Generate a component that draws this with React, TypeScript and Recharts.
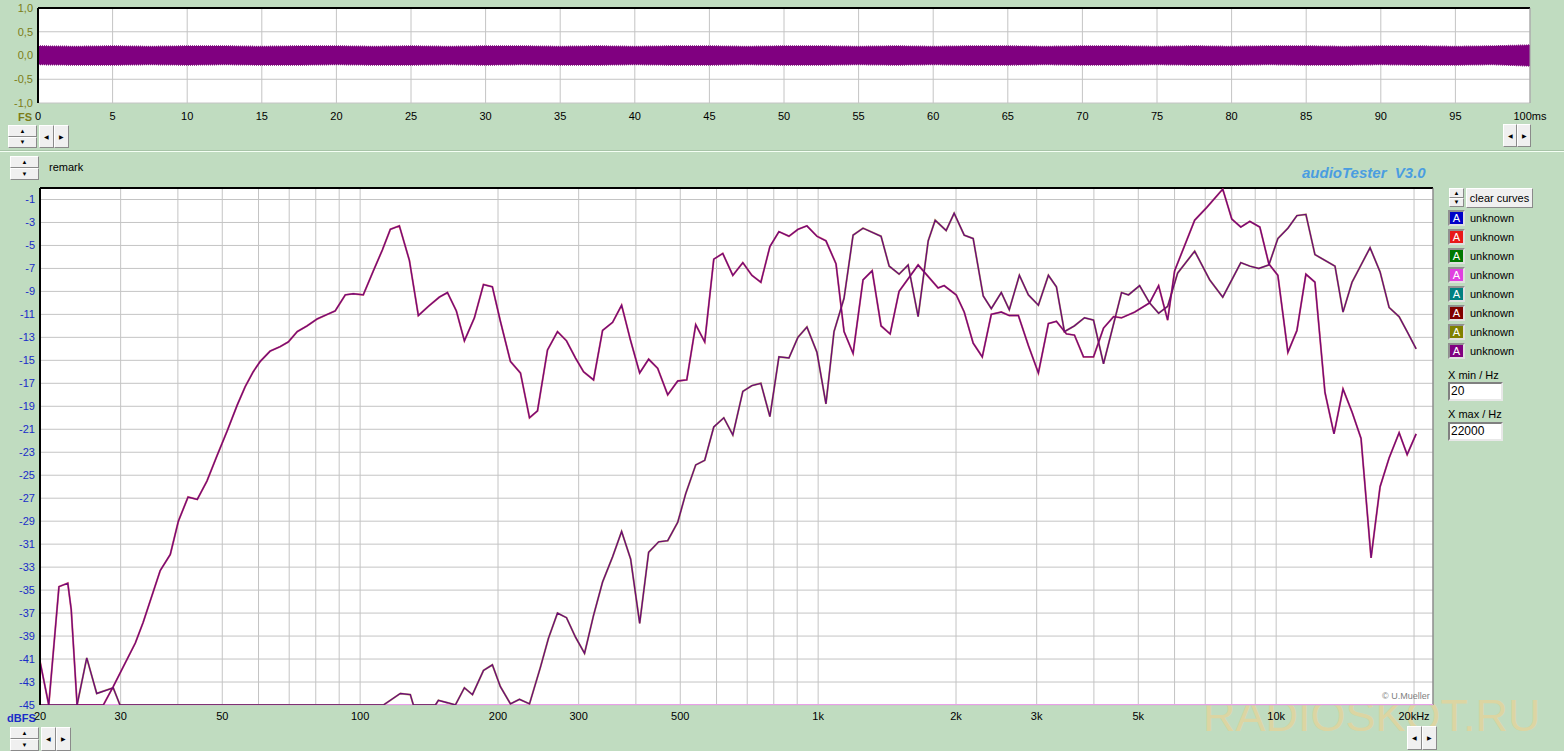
import React from "react";
import {
  Area,
  CartesianGrid,
  ComposedChart,
  Line,
  ReferenceLine,
  XAxis,
  YAxis,
} from "recharts";

// ---- waveform (top panel), time in ms, level in FS ----
const timeMs = [
  0, 2.5, 5, 7.5, 10, 12.5, 15, 17.5, 20, 22.5, 25, 27.5, 30, 32.5, 35, 37.5, 40, 42.5, 45, 47.5, 50,
  52.5, 55, 57.5, 60, 62.5, 65, 67.5, 70, 72.5, 75, 77.5, 80, 82.5, 85, 87.5, 90, 92.5, 95, 97.5, 100,
];
const waveHigh = [
  0.2, 0.19, 0.2, 0.19, 0.2, 0.2, 0.19, 0.2, 0.2, 0.19, 0.2, 0.19, 0.2, 0.2, 0.19, 0.2, 0.19,
  0.2, 0.2, 0.19, 0.2, 0.2, 0.19, 0.2, 0.19, 0.2, 0.2, 0.19, 0.2, 0.2, 0.19, 0.2, 0.19, 0.2,
  0.2, 0.19, 0.2, 0.2, 0.19, 0.2, 0.22,
];
const waveLow = [
  -0.19, -0.2, -0.2, -0.19, -0.2, -0.19, -0.2, -0.2, -0.19, -0.2, -0.2, -0.19, -0.2, -0.19, -0.2,
  -0.2, -0.19, -0.2, -0.2, -0.19, -0.2, -0.2, -0.19, -0.2, -0.19, -0.2, -0.2, -0.19, -0.2, -0.2,
  -0.19, -0.2, -0.2, -0.19, -0.2, -0.2, -0.19, -0.2, -0.2, -0.19, -0.22,
];
const timeTicks = [0, 5, 10, 15, 20, 25, 30, 35, 40, 45, 50, 55, 60, 65, 70, 75, 80, 85, 90, 95, 100];
const levelTicks = [-1, -0.5, 0, 0.5, 1];

// ---- frequency response (bottom panel), [Hz, dBFS] ----
const freqTicks = [
  20, 30, 40, 50, 60, 70, 80, 90, 100, 200, 300, 400, 500, 600, 700, 800, 900, 1000, 2000, 3000, 4000,
  5000, 6000, 7000, 8000, 9000, 10000, 20000,
];
const freqLabels: Record<number, string> = {
  20: "20", 30: "30", 50: "50", 100: "100", 200: "200", 300: "300", 500: "500",
  1000: "1k", 2000: "2k", 3000: "3k", 5000: "5k", 10000: "10k", 20000: "20kHz",
};
const dbTicks = [
  -1, -3, -5, -7, -9, -11, -13, -15, -17, -19, -21, -23, -25, -27, -29, -31, -33, -35, -37, -39, -41,
  -43, -45,
];

const responseA: [number, number][] = [
  [20, -41.2], [20.9, -45], [22.0, -34.7], [23.0, -34.4], [23.4, -36.7], [24.1, -45], [27.5, -45],
  [28.9, -43.4], [32.3, -39.6], [33.6, -37.8], [36.6, -33.3], [38.5, -31.9], [40.1, -29.0],
  [42.1, -26.9], [44.1, -27.1], [46.3, -25.5], [48.7, -23.3], [51.3, -21.1], [53.9, -18.9],
  [56.1, -17.3], [58.4, -16.0], [60.5, -15.1], [63.6, -14.2], [66.9, -13.8], [69.7, -13.4],
  [72.9, -12.5], [76.6, -12.0], [80.6, -11.4], [84.8, -11.0], [88.2, -10.7], [92.8, -9.3],
  [96.6, -9.2], [101.6, -9.3], [106.9, -7.2], [111.8, -5.4], [116.4, -3.6], [121.8, -3.3],
  [128.1, -6.3], [134, -11.1], [141, -10.3], [148.9, -9.5], [155.1, -9.1], [162.2, -10.7],
  [168.9, -13.3], [177.6, -11.3], [185.9, -8.4], [194.4, -8.6], [202.4, -11.6], [212.9, -15.1],
  [223.9, -16.1], [234.3, -20.0], [243.9, -19.4], [256.5, -14.1], [269.7, -12.5], [282.2, -13.3],
  [295.3, -14.8], [307.5, -16.0], [323.3, -16.7], [338.3, -12.4], [355.8, -11.7], [372.3, -10.2],
  [389.6, -13.3], [407.7, -16.1], [426.5, -14.9], [446.3, -15.7], [469.4, -18.0], [493.6, -16.8],
  [516.6, -16.7], [540.4, -11.9], [565.4, -13.4], [591.7, -6.2], [619.1, -5.7], [651.2, -7.6],
  [684.8, -6.5], [716.6, -7.6], [749.8, -8.2], [784.6, -5.1], [821, -3.8], [863.4, -4.2],
  [903.2, -3.6], [945.1, -3.3], [993.9, -4.2], [1040, -4.6], [1094, -6.6], [1139, -12.5],
  [1192, -14.4], [1253, -8.0], [1312, -7.2], [1372, -12.0], [1436, -12.7], [1502, -9.0],
  [1653, -6.7], [1828, -8.7], [1884, -8.5], [2002, -9.3], [2084, -10.8], [2180, -13.5],
  [2282, -14.7], [2388, -11.0], [2511, -10.8], [2614, -11.1], [2736, -11.1], [2877, -13.7],
  [3026, -16.1], [3182, -11.8], [3313, -11.6], [3484, -12.7], [3627, -12.8], [3796, -14.7],
  [3992, -14.7], [4198, -12.2], [4415, -11.2], [4596, -11.3], [4908, -10.8], [5292, -10.0],
  [5538, -8.5], [5795, -11.5], [6003, -7.2], [6313, -5.0], [6639, -2.8], [7053, -1.7],
  [7645, -0.1], [8000, -2.7], [8371, -3.4], [8759, -2.9], [9212, -3.4], [9639, -6.6],
  [10086, -7.6], [10608, -14.3], [11100, -12.4], [11613, -7.5], [12152, -8.2], [12781, -17.8],
  [13374, -21.4], [13995, -17.5], [14643, -19.5], [15322, -21.8], [15713, -27.0], [16114, -32.2],
  [16443, -29.4], [16862, -26.0], [17644, -23.5], [18555, -21.3], [19319, -23.2], [20214, -21.4],
];

const responseB: [number, number][] = [
  [20, -45], [24.1, -45], [25.3, -40.9], [26.6, -44.0], [28.9, -43.5], [29.9, -45], [112.4, -45],
  [122.4, -44.0], [128.7, -44.1], [130.7, -45], [146, -45], [148.2, -44.6], [155.1, -44.8],
  [161.4, -45], [168.9, -43.5], [175.9, -44.1], [185.9, -42.0], [194.4, -41.5], [202.4, -43.4],
  [212.9, -44.9], [222.8, -44.5], [234.3, -44.9], [247.6, -41.7], [257.7, -39.2], [269.7, -37.0],
  [282.2, -37.4], [295.3, -39.1], [309, -40.5], [323.3, -37.2], [338.3, -34.3], [355.8, -32.1],
  [372.3, -29.9], [389.6, -32.3], [407.7, -37.9], [426.5, -31.7], [448.5, -30.8], [469.4, -30.7],
  [493.6, -29.1], [513.9, -26.6], [540.4, -24.1], [565.4, -23.7], [591.7, -20.8], [622.3, -20.0],
  [651.2, -21.5], [684.8, -17.7], [716.6, -17.2], [749.8, -17.0], [784.6, -19.9], [821, -14.7],
  [863.4, -14.8], [903.2, -13.0], [945.1, -12.1], [993.9, -14.3], [1040, -18.8], [1083, -12.5],
  [1139, -9.6], [1192, -4.1], [1253, -3.5], [1372, -4.2], [1429, -6.8], [1502, -7.5],
  [1572, -6.7], [1653, -11.2], [1739, -4.6], [1801, -2.8], [1903, -3.7], [1981, -2.2],
  [2084, -4.1], [2180, -4.4], [2293, -9.4], [2388, -10.5], [2511, -9.1], [2614, -10.6],
  [2750, -7.6], [2877, -9.3], [3026, -10.2], [3182, -7.6], [3313, -8.6], [3449, -12.5],
  [3627, -12.0], [3815, -11.3], [3992, -11.5], [4198, -15.3], [4596, -9.1], [4761, -9.3],
  [5033, -8.5], [5292, -10.0], [5538, -10.9], [5795, -10.3], [6094, -7.4], [6639, -5.5],
  [7160, -8.0], [7645, -9.5], [8371, -6.5], [8759, -6.8], [9165, -7.0], [9639, -6.7],
  [10086, -4.4], [10608, -3.5], [11100, -2.4], [11613, -2.3], [12152, -5.8], [12781, -6.3],
  [13441, -6.8], [13995, -10.8], [14643, -8.2], [15322, -6.7], [16033, -5.2], [16862, -7.3],
  [17644, -10.4], [18555, -11.2], [19319, -12.5], [20214, -14.0],
];

const floorLine: [number, number][] = [[20, -45], [22000, -45]];

const legendColors = ["#0000c8", "#e81818", "#007800", "#e040e0", "#008080", "#800000", "#808000", "#800080"];

const waveData = timeMs.map((t, i) => ({ t, range: [waveLow[i], waveHigh[i]] }));
const toPts = (arr: [number, number][]) => arr.map(([f, db]) => ({ f, db }));

const GREEN = "#c0dcc0";
const GRID = "#c4c4c4";

const btn: React.CSSProperties = {
  position: "absolute",
  boxSizing: "border-box",
  background: "#f0f0f0",
  border: "1px solid",
  borderColor: "#ffffff #8a8a8a #8a8a8a #ffffff",
  display: "flex",
  alignItems: "center",
  justifyContent: "center",
  fontSize: 6,
  lineHeight: 1,
  color: "#000",
};

function Spinner({ x, y, w, h }: { x: number; y: number; w: number; h: number }) {
  const hh = h / 2;
  return (
    <>
      <div style={{ ...btn, left: x, top: y, width: w, height: hh }}>▲</div>
      <div style={{ ...btn, left: x, top: y + hh, width: w, height: hh }}>▼</div>
    </>
  );
}

function Arrows({ x, y, w, h }: { x: number; y: number; w: number; h: number }) {
  return (
    <>
      <div style={{ ...btn, left: x, top: y, width: w, height: h }}>◀</div>
      <div style={{ ...btn, left: x + w, top: y, width: w, height: h }}>▶</div>
    </>
  );
}

function Label({ x, y, children, style }: { x: number; y: number; children: React.ReactNode; style?: React.CSSProperties }) {
  return (
    <div style={{ position: "absolute", left: x, top: y, whiteSpace: "pre", lineHeight: "14px", ...style }}>
      {children}
    </div>
  );
}

function InputBox({ x, y, value }: { x: number; y: number; value: string }) {
  return (
    <div
      style={{
        position: "absolute",
        left: x,
        top: y,
        width: 55,
        height: 19,
        boxSizing: "border-box",
        background: "#fff",
        border: "2px solid",
        borderColor: "#808080 #e8e8e8 #e8e8e8 #808080",
        fontSize: 12,
        lineHeight: "15px",
        paddingLeft: 1,
      }}
    >
      {value}
    </div>
  );
}

export default function App() {
  return (
    <div
      style={{
        position: "absolute",
        left: 0,
        top: 0,
        width: 1564,
        height: 751,
        overflow: "hidden",
        background: GREEN,
        fontFamily: "'Liberation Sans', Arial, sans-serif",
        fontSize: 11,
        color: "#000",
      }}
    >
      {/* watermark sits under everything else */}
      <Label
        x={1203}
        y={699}
        style={{ color: "#dcd5a2", fontSize: 45, lineHeight: "34px" }}
      >
        RADIOSKOT.RU
      </Label>

      {/* waveform */}
      <div style={{ position: "absolute", left: 0, top: 0 }}>
        <ComposedChart width={1560} height={125} data={waveData} margin={{ top: 8, right: 30, left: 0, bottom: 0 }}>
          <CartesianGrid stroke={GRID} fill="#ffffff" fillOpacity={1} />
          <XAxis
            dataKey="t"
            type="number"
            domain={[0, 100]}
            ticks={timeTicks}
            interval={0}
            tickFormatter={(v: number) => (v === 100 ? "100ms" : String(v))}
            axisLine={false}
            tickLine={false}
            tickSize={0}
            tickMargin={9}
            height={22}
            tick={{ fontSize: 11, fill: "#000" }}
          />
          <YAxis
            type="number"
            domain={[-1, 1]}
            ticks={levelTicks}
            interval={0}
            tickFormatter={(v: number) => v.toFixed(1).replace(".", ",")}
            axisLine={{ stroke: "#000", strokeWidth: 2 }}
            tickLine={false}
            tickSize={0}
            tickMargin={5}
            width={38}
            tick={{ fontSize: 11, fill: "#7c7c18" }}
          />
          <ReferenceLine y={1} stroke="#000" strokeWidth={2} />
          <ReferenceLine x={100} stroke="#a0a0a0" />
          <Area
            dataKey="range"
            type="linear"
            stroke="#7a0a7a"
            strokeWidth={1.5}
            strokeDasharray="1 1"
            fill="#800080"
            fillOpacity={1}
            isAnimationActive={false}
          />
        </ComposedChart>
      </div>
      <Label x={18} y={110} style={{ color: "#7c7c18", fontWeight: "bold" }}>FS</Label>
      <Spinner x={8} y={125} w={29} h={23} />
      <Arrows x={39} y={125} w={15} h={23} />
      <Arrows x={1503} y={124} w={14} h={23} />

      <div style={{ position: "absolute", left: 0, top: 150, width: 1564, height: 1, background: "#a8c4a8" }} />
      <div style={{ position: "absolute", left: 0, top: 151, width: 1564, height: 1, background: "#f4fff4" }} />

      <Spinner x={10} y={156} w={29} h={24} />
      <Label x={49} y={160}>remark</Label>
      <Label
        x={1302}
        y={164}
        style={{ color: "#4a9de0", fontWeight: "bold", fontStyle: "italic", fontSize: 15, lineHeight: "18px" }}
      >
        {"audioTester  V3.0"}
      </Label>

      {/* frequency response */}
      <div style={{ position: "absolute", left: 0, top: 180 }}>
        <ComposedChart width={1440} height={545} margin={{ top: 8, right: 7, left: 0, bottom: 0 }}>
          <CartesianGrid stroke={GRID} fill="#ffffff" fillOpacity={1} />
          <XAxis
            dataKey="f"
            type="number"
            scale="log"
            domain={[20, 22000]}
            allowDataOverflow
            ticks={freqTicks}
            interval={0}
            tickFormatter={(v: number) => freqLabels[v] ?? ""}
            axisLine={false}
            tickLine={false}
            tickSize={0}
            tickMargin={7}
            height={20}
            tick={{ fontSize: 11, fill: "#000" }}
          />
          <YAxis
            type="number"
            domain={[-45, 0]}
            allowDataOverflow
            ticks={dbTicks}
            interval={0}
            axisLine={{ stroke: "#000", strokeWidth: 2 }}
            tickLine={false}
            tickSize={0}
            tickMargin={5}
            width={40}
            tick={{ fontSize: 11, fill: "#1a2cc8" }}
          />
          <ReferenceLine y={0} stroke="#000" strokeWidth={2} />
          <ReferenceLine x={22000} stroke="#707070" />
          <Line
            data={toPts(floorLine)}
            dataKey="db"
            type="linear"
            stroke="#e8a0e8"
            strokeWidth={2}
            dot={false}
            isAnimationActive={false}
          />
          <Line
            data={toPts(responseB)}
            dataKey="db"
            type="linear"
            stroke="#b89a3a"
            strokeWidth={2}
            strokeOpacity={0.7}
            dot={false}
            isAnimationActive={false}
          />
          <Line
            data={toPts(responseA)}
            dataKey="db"
            type="linear"
            stroke="#f03030"
            strokeWidth={2}
            strokeOpacity={0.6}
            dot={false}
            isAnimationActive={false}
          />
          <Line
            data={toPts(responseB)}
            dataKey="db"
            type="linear"
            stroke="#6a0c78"
            strokeWidth={1.4}
            dot={false}
            isAnimationActive={false}
          />
          <Line
            data={toPts(responseA)}
            dataKey="db"
            type="linear"
            stroke="#720a7a"
            strokeWidth={1.4}
            dot={false}
            isAnimationActive={false}
          />
        </ComposedChart>
      </div>
      <Label x={1382} y={689} style={{ color: "#808080", fontSize: 9 }}>© U.Mueller</Label>
      <Label x={7} y={711} style={{ color: "#1a2cc8", fontWeight: "bold" }}>dBFS</Label>
      <Spinner x={10} y={727} w={29} h={24} />
      <Arrows x={41} y={727} w={15} h={24} />
      <Arrows x={1407} y={726} w={15} h={24} />

      {/* right panel */}
      <Spinner x={1449} y={188} w={15} h={19} />
      <div style={{ ...btn, left: 1466, top: 188, width: 67, height: 20, fontSize: 11 }}>clear curves</div>
      {legendColors.map((c, i) => (
        <React.Fragment key={c}>
          <div
            style={{
              position: "absolute",
              left: 1448,
              top: 210 + i * 19,
              width: 17,
              height: 16,
              boxSizing: "border-box",
              border: "2px solid",
              borderColor: "#909090 #e0e0e0 #e0e0e0 #909090",
              background: c,
              color: "#fff",
              fontSize: 11,
              lineHeight: "12px",
              textAlign: "center",
            }}
          >
            A
          </div>
          <Label x={1470} y={211 + i * 19}>unknown</Label>
        </React.Fragment>
      ))}
      <Label x={1448} y={368}>X min / Hz</Label>
      <InputBox x={1448} y={382} value="20" />
      <Label x={1448} y={407}>X max / Hz</Label>
      <InputBox x={1448} y={422} value="22000" />
    </div>
  );
}
